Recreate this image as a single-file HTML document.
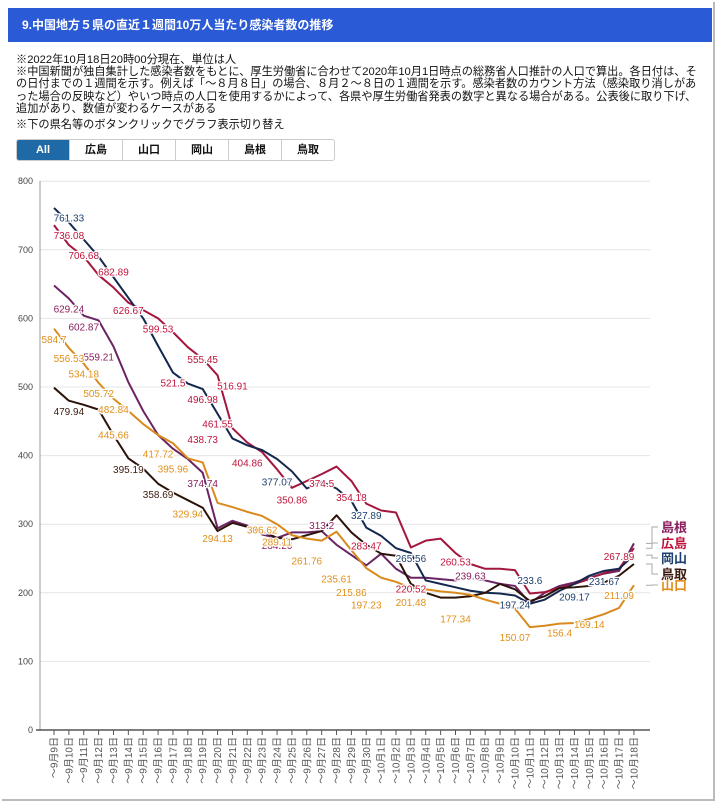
<!DOCTYPE html>
<html><head><meta charset="utf-8">
<style>
body{margin:0;width:720px;height:805px;background:#fff;font-family:"Liberation Sans","Noto Sans CJK JP",sans-serif;position:relative;overflow:hidden}
#frame{position:absolute;left:2px;top:2px;width:711px;height:797px;border-right:2px solid #bbb;border-bottom:2px solid #bbb}
#hdr{position:absolute;left:8px;top:8px;width:704px;height:34px;background:#2b5ad6;color:#fff;font-weight:bold;font-size:12px;line-height:34px;padding-left:14px;box-sizing:border-box}
#notes{position:absolute;left:16px;top:52px;font-size:11.2px;line-height:12.2px;color:#111;white-space:nowrap}
#notes div{margin:0}
#btns{position:absolute;left:16px;top:139px;display:flex;border:1px solid #ccc;border-radius:3px;overflow:hidden}
#btns div{width:52px;height:20px;line-height:20px;text-align:center;font-size:11px;font-weight:bold;border-right:1px solid #ccc;color:#111}
#btns div.on{background:#1f6aa6;color:#fff}
svg{position:absolute;left:0;top:0}
</style></head><body>
<div id="frame"></div>
<div id="hdr">9.中国地方５県の直近１週間10万人当たり感染者数の推移</div>
<div id="notes">
<div style="margin-top:2px">※2022年10月18日20時00分現在、単位は人</div>
<div>※中国新聞が独自集計した感染者数をもとに、厚生労働省に合わせて2020年10月1日時点の総務省人口推計の人口で算出。各日付は、そ</div>
<div>の日付までの１週間を示す。例えば「～８月８日」の場合、８月２～８日の１週間を示す。感染者数のカウント方法（感染取り消しがあ</div>
<div>った場合の反映など）やいつ時点の人口を使用するかによって、各県や厚生労働省発表の数字と異なる場合がある。公表後に取り下げ、</div>
<div>追加があり、数値が変わるケースがある</div>
<div style="margin-top:4px">※下の県名等のボタンクリックでグラフ表示切り替え</div>
</div>
<div id="btns">
<div class="on">All</div>
<div>広島</div>
<div>山口</div>
<div>岡山</div>
<div>島根</div>
<div style="border-right:none">鳥取</div>
</div>
<svg id="chart" width="720" height="805"></svg>
<script>
const yTicks=[0,100,200,300,400,500,600,700,800];
const dates=["9月9日","9月10日","9月11日","9月12日","9月13日","9月14日","9月15日","9月16日","9月17日","9月18日","9月19日","9月20日","9月21日","9月22日","9月23日","9月24日","9月25日","9月26日","9月27日","9月28日","9月29日","9月30日","10月1日","10月2日","10月3日","10月4日","10月5日","10月6日","10月7日","10月8日","10月9日","10月10日","10月11日","10月12日","10月13日","10月14日","10月15日","10月16日","10月17日","10月18日"];
const hiroshima=[736,707,690,663,645,623,612,600,580,558,541,517,440,419,405,380,353,363,373,384,363,330,320,317,266,276,279,258,242,235,235,233,199,201,207,213,220,229,235,265];
const okayama=[761,740,715,690,660,630,600,560,521,505,497,461,425,415,408,395,377,352,362,352,334,295,283,265,258,218,213,208,203,200,199,196,184,190,203,213,225,232,235,255];
const shimane=[648,629,604,597,559,507,465,430,410,395,375,294,305,298,285,280,288,288,290,270,255,240,257,235,222,222,220,218,222,218,213,210,185,200,210,215,222,228,232,272];
const tottori=[499,480,474,467,430,396,381,359,346,335,324,290,302,296,290,280,278,284,290,313,288,270,257,254,213,200,193,193,195,200,213,205,188,195,207,208,210,215,225,242];
const yamaguchi=[585,557,534,506,483,465,446,430,418,396,390,331,325,318,312,300,284,279,276,289,262,236,222,216,207,205,202,200,197,190,184,177,150,152,155,156,162,169,178,211];
const seriesNames=["shimane","hiroshima","okayama","tottori","yamaguchi"];
const seriesData=[shimane,hiroshima,okayama,tottori,yamaguchi];
const seriesColors=["#6a2463","#a3163d","#14284f","#2c130a","#d98a1c"];
const legendLabels=["島根","広島","岡山","鳥取","山口"];
const legendColors=["#8a1e5e","#c0143c","#1d3f6e","#3b1a0e","#e0901a"];
const labelSeries=[2,1,1,1,1,0,0,1,1,0,1,1,2,0,1,4,4,4,4,4,3,4,4,4,4,3,3,4,0,0,1,1,2,2,2,1,1,0,1,1,4,4,4,4,2,1,4,4,4,4,1,4,4,4,4,4,2,2,1,1,1,0,0,0,1,4];
const labelIndex=[1,8,10,11,1,1,2,4,2,3,5,7,15,10,10,1,2,3,4,4,1,7,8,9,11,5,7,14,11,18,16,13,21,24,32,18,20,15,21,24,15,17,19,20,31,27,21,24,27,31,32,32,34,36,38,0,35,37,38,12,10,28,37,35,24,38];
const labelText=["761.33","521.5","496.98","461.55","736.08","629.24","602.87","682.89","706.68","559.21","626.67","599.53","377.07","374.74","555.45","556.53","534.18","505.72","482.84","445.66","479.94","417.72","395.96","329.94","294.13","395.19","358.69","306.62","","313.2","350.86","404.86","327.89","265.56","233.6","374.5","354.18","284.26","283.47","220.52","289.11","261.76","235.61","215.86","197.24","260.53","197.23","201.48","177.34","150.07","","","156.4","169.14","211.09","584.7","209.17","231.67","267.89","516.91","438.73","239.63","","","","" ];
const NS="http://www.w3.org/2000/svg";
const svg=document.getElementById('chart');
const X0=54,STEP=14.87,Y0=730,YS=0.686;
function xs(i){return X0+i*STEP;}
function ys(v){return Y0-v*YS;}
function mk(t,a){const e=document.createElementNS(NS,t);for(const k in a)e.setAttribute(k,a[k]);svg.appendChild(e);return e;}
yTicks.forEach(t=>{
  if(t>0){const g=mk('line',{x1:40,x2:650,y1:ys(t),y2:ys(t),stroke:'#e4e4e4','stroke-width':1});
  
  }
  const l=mk('text',{x:33,y:ys(t)+3,'text-anchor':'end','font-size':9,fill:'#444'});l.textContent=t;
  
  
});
const ax=mk('line',{x1:40,x2:40,y1:181,y2:731,stroke:'#999','stroke-width':1});


const bx=mk('line',{x1:36,x2:650,y1:Y0,y2:Y0,stroke:'#555','stroke-width':1.5});


dates.forEach((d,i)=>{
  const tk=mk('line',{x1:xs(i),x2:xs(i),y1:Y0,y2:Y0+5,stroke:'#555'});
  
  
  const t=mk('text',{transform:`translate(${xs(i)+3.5},737) rotate(-90)`,'text-anchor':'end','font-size':10,fill:'#555'});
  t.textContent='～'+d;
  
  
});
seriesData.forEach((arr,s)=>{
  const p=mk('polyline',{points:arr.map((v,i)=>xs(i)+','+ys(v)).join(' '),fill:'none',stroke:seriesColors[s],'stroke-width':2,'stroke-linejoin':'round'});
  
  
});
labelText.forEach((txt,k)=>{
  if(!txt)return;
  const s=labelSeries[k],i=labelIndex[k],v=parseFloat(txt);
  const t=mk('text',{x:xs(i),y:ys(v)+14,'text-anchor':'middle','font-size':10,fill:legendColors[s],stroke:'#fff','stroke-width':2.5,'paint-order':'stroke'});
  t.textContent=txt;
  
  
});
const legY=[527,543,558,574,585];
legendLabels.forEach((lb,s)=>{
  const last=seriesData[s][seriesData[s].length-1];
  const py=ys(last);
  const c=mk('polyline',{points:`646,${py} 652,${py} 652,${legY[s]} 658,${legY[s]}`,fill:'none',stroke:'#aaa','stroke-width':1});
  
  
  const t=mk('text',{x:661,y:legY[s]+5,'font-size':13,'font-weight':'bold',fill:legendColors[s]});
  t.textContent=lb;
  
  
});
</script>
</body></html>
